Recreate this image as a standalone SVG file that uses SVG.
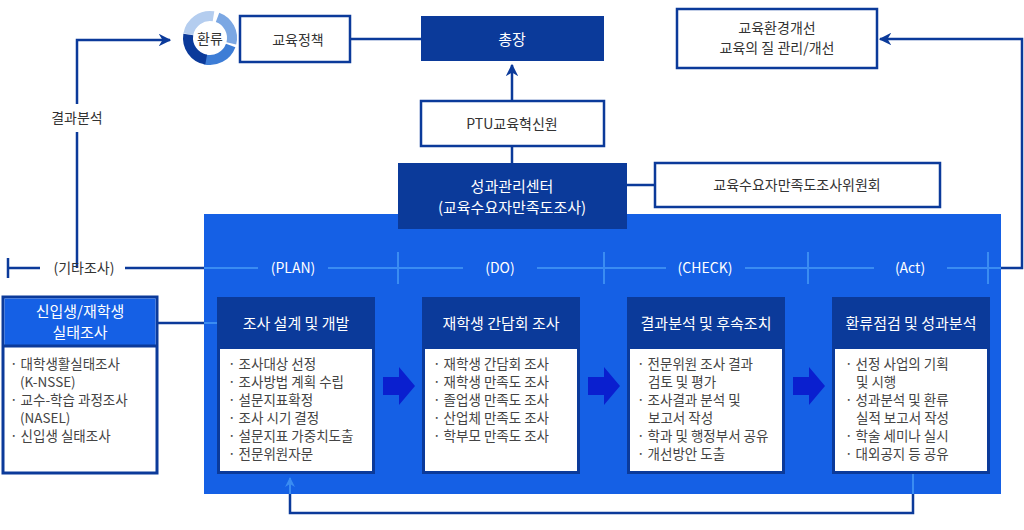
<svg xmlns="http://www.w3.org/2000/svg" width="1024" height="530" viewBox="0 0 1024 530">
<style>
text{font-family:"Noto Sans CJK KR","Noto Sans",sans-serif}
.nv{stroke:#0b3a9a;stroke-width:2.5;fill:none}
.lb{stroke:#3a8cf2;stroke-width:2;fill:none}
.t{font-size:14px;fill:#333}
.w{fill:#fff}
.item{font-size:13.5px;fill:#444}
.hd{font-size:15px;fill:#fff;text-anchor:middle}
</style>
<defs>
<marker id="an" viewBox="0 0 10 10" refX="9" refY="5" markerWidth="5" markerHeight="5" orient="auto"><path d="M0,0L10,5L0,10L3,5z" fill="#0b3a9a"/></marker>
<marker id="al" viewBox="0 0 10 10" refX="9" refY="5" markerWidth="5" markerHeight="5" orient="auto"><path d="M0,0L10,5L0,10L3,5z" fill="#3a8cf2"/></marker>
</defs>
<rect x="204" y="214" width="797" height="280" fill="#1560e5"/>
<g id="connectors">
<path class="nv" d="M350,39H421"/>
<path class="nv" d="M1001,268H1022V39H880" marker-end="url(#an)"/>
<path class="nv" d="M512,101V65" marker-end="url(#an)"/>
<path class="nv" d="M512,146V163"/>
<path class="nv" d="M627,185H655"/>
<path class="nv" d="M77,268V132M77,104V40H170" marker-end="url(#an)"/>
<path class="nv" d="M8,258V278M8,268H40M125,268H204"/>
<path class="nv" d="M157,323H204"/>
<path class="lb" d="M204,323H218"/>
<path class="lb" d="M204,268H258M328,268H463M537,268H666M745,268H874M947,268H1001M398,252V284M604,252V284M808,252V284M988,252V284"/>
<path class="lb" d="M913,474V494"/>
<path class="nv" d="M913,494V513H290V494"/>
<path class="lb" d="M290,494V478" marker-end="url(#al)"/>
<text x="77" y="123" class="t" text-anchor="middle">결과분석</text>
<text x="84" y="273" class="t" text-anchor="middle">(기타조사)</text>
<g fill="#fff" font-size="14" text-anchor="middle"><text x="293" y="273">(PLAN)</text><text x="500" y="273">(DO)</text><text x="705" y="273">(CHECK)</text><text x="910" y="273">(Act)</text></g>
<g fill="#0a1fcf"><path d="M383,377H399V367L415,386L399,405V395H383z"/><path d="M588,377H604V367L620,386L604,405V395H588z"/><path d="M793,377H809V367L825,386L809,405V395H793z"/></g>
</g>
<g id="policy">
<rect x="240" y="16" width="110" height="46" fill="#fff" class="nv"/>
<text x="298" y="45" class="t" font-size="15" text-anchor="middle">교육정책</text>
</g>
<g id="cycle">
<circle cx="210" cy="38" r="22" fill="none" stroke="#b4cdef" stroke-width="10" stroke-dasharray="34 104" transform="rotate(-170 210 38)"/>
<circle cx="210" cy="38" r="22" fill="none" stroke="#7ba7e3" stroke-width="10" stroke-dasharray="32 106" transform="rotate(-70 210 38)"/>
<circle cx="210" cy="38" r="22" fill="none" stroke="#3d7dd6" stroke-width="10" stroke-dasharray="32 106" transform="rotate(20 210 38)"/>
<circle cx="210" cy="38" r="22" fill="none" stroke="#0b3a9a" stroke-width="10" stroke-dasharray="34 104" transform="rotate(100 210 38)"/>
<text x="210" y="44" class="t" font-size="15" text-anchor="middle">환류</text>
</g>
<g id="president">
<rect x="421" y="16" width="183" height="45" fill="#0b3a9a"/>
<text x="512" y="45" class="hd" font-size="18">총장</text>
</g>
<g id="env">
<rect x="677" y="9" width="200" height="59" fill="#fff" class="nv"/>
<text x="777" y="33" class="t" text-anchor="middle">교육환경개선</text>
<text x="777" y="53" class="t" text-anchor="middle">교육의 질 관리/개선</text>
</g>
<g id="ptu">
<rect x="421" y="101" width="183" height="45" fill="#fff" class="nv"/>
<text x="512" y="129" class="t" font-size="15" text-anchor="middle">PTU교육혁신원</text>
</g>
<g id="center">
<rect x="398" y="163" width="229" height="66" fill="#0b3a9a"/>
<text x="512" y="192" class="hd" font-size="16">성과관리센터</text>
<text x="512" y="213" class="hd" font-size="16">(교육수요자만족도조사)</text>
</g>
<g id="committee">
<rect x="655" y="163" width="285" height="44" fill="#fff" class="nv"/>
<text x="797" y="190" class="t" font-size="15" text-anchor="middle">교육수요자만족도조사위원회</text>
</g>
<g id="freshman">
<rect x="3" y="297" width="154" height="176" fill="#fff" stroke="#0b3a9a" stroke-width="3"/>
<rect x="4.5" y="298.5" width="151" height="47" fill="#1560e5"/>
<path d="M3,346H157" stroke="#0b3a9a" stroke-width="3"/>
<text x="80" y="317" class="hd">신입생/재학생</text>
<text x="80" y="338" class="hd">실태조사</text>
<g class="item"><text x="10" y="369">· 대학생활실태조사</text><text x="20" y="387">(K-NSSE)</text><text x="10" y="405">· 교수-학습 과정조사</text><text x="20" y="423">(NASEL)</text><text x="10" y="441">· 신입생 실태조사</text></g>
</g>
<g id="plan">
<rect x="217" y="297" width="158" height="177" fill="#0b3a9a"/>
<rect x="220" y="349" width="152" height="122" fill="#fff"/>
<text x="296" y="329" class="hd">조사 설계 및 개발</text>
<g class="item"><text x="228" y="369">· 조사대상 선정</text><text x="228" y="387">· 조사방법 계획 수립</text><text x="228" y="405">· 설문지표확정</text><text x="228" y="423">· 조사 시기 결정</text><text x="228" y="441">· 설문지표 가중치도출</text><text x="228" y="459">· 전문위원자문</text></g>
</g>
<g id="do">
<rect x="422" y="297" width="158" height="177" fill="#0b3a9a"/>
<rect x="425" y="349" width="152" height="122" fill="#fff"/>
<text x="501" y="329" class="hd">재학생 간담회 조사</text>
<g class="item"><text x="433" y="369">· 재학생 간담회 조사</text><text x="433" y="387">· 재학생 만족도 조사</text><text x="433" y="405">· 졸업생 만족도 조사</text><text x="433" y="423">· 산업체 만족도 조사</text><text x="433" y="441">· 학부모 만족도 조사</text></g>
</g>
<g id="check">
<rect x="627" y="297" width="158" height="177" fill="#0b3a9a"/>
<rect x="630" y="349" width="152" height="122" fill="#fff"/>
<text x="706" y="329" class="hd">결과분석 및 후속조치</text>
<g class="item"><text x="637" y="369">· 전문위원 조사 결과</text><text x="648" y="387">검토 및 평가</text><text x="637" y="405">· 조사결과 분석 및</text><text x="648" y="423">보고서 작성</text><text x="637" y="441">· 학과 및 행정부서 공유</text><text x="637" y="459">· 개선방안 도출</text></g>
</g>
<g id="act">
<rect x="832" y="297" width="158" height="177" fill="#0b3a9a"/>
<rect x="835" y="349" width="152" height="122" fill="#fff"/>
<text x="911" y="329" class="hd">환류점검 및 성과분석</text>
<g class="item"><text x="845" y="369">· 선정 사업의 기획</text><text x="856" y="387">및 시행</text><text x="845" y="405">· 성과분석 및 환류</text><text x="856" y="423">실적 보고서 작성</text><text x="845" y="441">· 학술 세미나 실시</text><text x="845" y="459">· 대외공지 등 공유</text></g>
</g>
</svg>
